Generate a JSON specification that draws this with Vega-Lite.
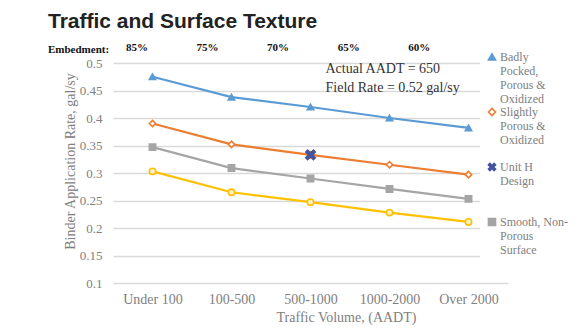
{
  "$schema": "https://vega.github.io/schema/vega-lite/v6.json",
  "width": 395,
  "height": 220,
  "autosize": {"type": "none"},
  "padding": {"left": 113, "top": 63, "right": 73, "bottom": 50},
  "background": "white",
  "config": {"view": {"stroke": null}, "font": "Liberation Serif"},
  "title": {
    "text": "Traffic and Surface Texture",
    "subtitle": "Embedment:",
    "anchor": "start",
    "frame": "group",
    "dx": -65,
    "font": "Liberation Sans",
    "fontSize": 21,
    "fontWeight": "bold",
    "color": "#222222",
    "subtitleFont": "Liberation Serif",
    "subtitleFontSize": 11,
    "subtitleFontWeight": "bold",
    "subtitleColor": "#111111",
    "subtitlePadding": 12,
    "offset": -13
  },
  "datasets": {
    "rates": [
      {"traffic": "Under 100", "series": "Badly Pocked, Porous & Oxidized", "rate": 0.475},
      {"traffic": "100-500", "series": "Badly Pocked, Porous & Oxidized", "rate": 0.438},
      {"traffic": "500-1000", "series": "Badly Pocked, Porous & Oxidized", "rate": 0.42},
      {"traffic": "1000-2000", "series": "Badly Pocked, Porous & Oxidized", "rate": 0.4},
      {"traffic": "Over 2000", "series": "Badly Pocked, Porous & Oxidized", "rate": 0.382},
      {"traffic": "Under 100", "series": "Slightly Porous & Oxidized", "rate": 0.39},
      {"traffic": "100-500", "series": "Slightly Porous & Oxidized", "rate": 0.352},
      {"traffic": "500-1000", "series": "Slightly Porous & Oxidized", "rate": 0.333},
      {"traffic": "1000-2000", "series": "Slightly Porous & Oxidized", "rate": 0.315},
      {"traffic": "Over 2000", "series": "Slightly Porous & Oxidized", "rate": 0.297},
      {"traffic": "Under 100", "series": "Smooth, Non-Porous Surface", "rate": 0.347},
      {"traffic": "100-500", "series": "Smooth, Non-Porous Surface", "rate": 0.309},
      {"traffic": "500-1000", "series": "Smooth, Non-Porous Surface", "rate": 0.29},
      {"traffic": "1000-2000", "series": "Smooth, Non-Porous Surface", "rate": 0.271},
      {"traffic": "Over 2000", "series": "Smooth, Non-Porous Surface", "rate": 0.253},
      {"traffic": "Under 100", "series": "Unlabeled Series", "rate": 0.303},
      {"traffic": "100-500", "series": "Unlabeled Series", "rate": 0.265},
      {"traffic": "500-1000", "series": "Unlabeled Series", "rate": 0.247},
      {"traffic": "1000-2000", "series": "Unlabeled Series", "rate": 0.228},
      {"traffic": "Over 2000", "series": "Unlabeled Series", "rate": 0.211},
      {"traffic": "500-1000", "series": "Unit H Design", "rate": 0.333}
    ],
    "embed": [
      {"traffic": "Under 100", "embedment": "85%"},
      {"traffic": "100-500", "embedment": "75%"},
      {"traffic": "500-1000", "embedment": "70%"},
      {"traffic": "1000-2000", "embedment": "65%"},
      {"traffic": "Over 2000", "embedment": "60%"}
    ],
    "note": [
      {"note": "Actual AADT = 650\nField Rate = 0.52 gal/sy"}
    ]
  },
  "layer": [
    {
      "layer": [
        {
          "data": {"name": "rates"},
          "transform": [{"filter": "datum.series !== 'Unit H Design'"}],
          "mark": {"type": "line", "strokeWidth": 2.2},
          "encoding": {
            "x": {
              "field": "traffic", "type": "ordinal",
              "scale": {"type": "point", "padding": 0.5, "domain": ["Under 100", "100-500", "500-1000", "1000-2000", "Over 2000"]},
              "axis": {
                "title": "Traffic Volume, (AADT)",
                "labelAngle": 0, "labelFont": "Liberation Serif", "labelFontSize": 14, "labelColor": "#808080",
                "labelPadding": 9, "ticks": false, "domain": false, "grid": false,
                "titleFont": "Liberation Serif", "titleFontSize": 14, "titleFontWeight": "normal", "titleColor": "#808080",
                "titlePadding": 4, "titleX": 233
              }
            },
            "y": {
              "field": "rate", "type": "quantitative",
              "scale": {"domain": [0.1, 0.5], "nice": false, "zero": false},
              "axis": {
                "title": "Binder Application Rate, gal/sy",
                "values": [0.1, 0.15, 0.2, 0.25, 0.3, 0.35, 0.4, 0.45, 0.5],
                "tickCount": 12,
                "format": "~g", "labelOverlap": false,
                "labelFont": "Liberation Serif", "labelFontSize": 13, "labelColor": "#808080",
                "labelPadding": 11, "ticks": false, "domain": false,
                "grid": true, "gridColor": "#d9d9d9", "gridWidth": 1.3,
                "titleFont": "Liberation Serif", "titleFontSize": 14, "titleFontWeight": "normal", "titleColor": "#808080",
                "titlePadding": 2, "titleY": 98
              }
            },
            "stroke": {
              "field": "series", "type": "nominal",
              "scale": {
                "domain": ["Badly Pocked, Porous & Oxidized", "Slightly Porous & Oxidized", "Unit H Design", "Smooth, Non-Porous Surface", "Unlabeled Series"],
                "range": ["#5B9BD5", "#ED7D31", "#44549E", "#A5A5A5", "#FFC000"]
              }
            }
          }
        },
        {
          "data": {"name": "rates"},
          "mark": {"type": "point", "filled": false, "strokeWidth": 1.6, "opacity": 1},
          "encoding": {
            "x": {"field": "traffic", "type": "ordinal"},
            "y": {"field": "rate", "type": "quantitative"},
            "size": {"condition": {"test": "datum.series === 'Unit H Design'", "value": 90}, "value": 40},
            "stroke": {
              "field": "series", "type": "nominal",
              "legend": {
                "orient": "none", "legendX": 367, "legendY": -18, "fillColor": "white", "padding": 6,
                "title": null, "gridAlign": "all", "rowPadding": 0,
                "values": ["Badly Pocked, Porous & Oxidized", "Slightly Porous & Oxidized", "Unit H Design", "Smooth, Non-Porous Surface"],
                "labelFont": "Liberation Serif", "labelFontSize": 12, "labelColor": "#808080", "labelLimit": 200, "labelOffset": 2,
                "labelExpr": "datum.value == 'Badly Pocked, Porous & Oxidized' ? ['Badly', 'Pocked,', 'Porous &', 'Oxidized'] : datum.value == 'Slightly Porous & Oxidized' ? ['Slightly', 'Porous &', 'Oxidized'] : datum.value == 'Unit H Design' ? ['Unit H', 'Design'] : ['Smooth, Non-', 'Porous', 'Surface']",
                "symbolSize": 50, "symbolStrokeWidth": 1.6
              }
            },
            "fill": {
              "field": "series", "type": "nominal",
              "scale": {
                "domain": ["Badly Pocked, Porous & Oxidized", "Slightly Porous & Oxidized", "Unit H Design", "Smooth, Non-Porous Surface", "Unlabeled Series"],
                "range": ["#5B9BD5", "#FFFFFF", "#44549E", "#A5A5A5", "#FFF2CC"]
              }
            },
            "shape": {
              "field": "series", "type": "nominal",
              "scale": {
                "domain": ["Badly Pocked, Porous & Oxidized", "Slightly Porous & Oxidized", "Unit H Design", "Smooth, Non-Porous Surface", "Unlabeled Series"],
                "range": ["triangle-up", "diamond", "M-1,-0.6L-0.6,-1L0,-0.4L0.6,-1L1,-0.6L0.4,0L1,0.6L0.6,1L0,0.4L-0.6,1L-1,0.6L-0.4,0Z", "square", "circle"]
              }
            }
          }
        },
        {
          "data": {"name": "note"},
          "mark": {"type": "text", "font": "Liberation Serif", "fontSize": 14, "color": "#333333", "align": "left", "baseline": "alphabetic", "dx": 15, "lineBreak": "\n", "lineHeight": 19},
          "encoding": {
            "x": {"datum": "500-1000", "type": "ordinal"},
            "y": {"datum": 0.482, "type": "quantitative"},
            "text": {"field": "note", "type": "nominal"}
          }
        }
      ]
    },
    {
      "data": {"name": "embed"},
      "mark": {"type": "text", "font": "Liberation Serif", "fontSize": 11, "fontWeight": "bold", "color": "#111111", "baseline": "alphabetic", "dy": -12},
      "encoding": {
        "x": {
          "field": "traffic", "type": "ordinal",
          "scale": {"type": "point", "padding": 0.8, "align": 0.213, "domain": ["Under 100", "100-500", "500-1000", "1000-2000", "Over 2000"]},
          "axis": null
        },
        "y": {
          "datum": 0.5, "type": "quantitative",
          "axis": {
            "title": "Binder Application Rate, gal/sy",
            "values": [0.1, 0.15, 0.2, 0.25, 0.3, 0.35, 0.4, 0.45, 0.5],
            "tickCount": 12,
            "format": "~g", "labelOverlap": false,
            "labelFont": "Liberation Serif", "labelFontSize": 13, "labelColor": "#808080",
            "labelPadding": 11, "ticks": false, "domain": false,
            "grid": true, "gridColor": "#d9d9d9", "gridWidth": 1.3,
            "titleFont": "Liberation Serif", "titleFontSize": 14, "titleFontWeight": "normal", "titleColor": "#808080",
            "titlePadding": 2, "titleY": 98
          }
        },
        "text": {"field": "embedment", "type": "nominal"}
      }
    }
  ],
  "resolve": {"scale": {"x": "independent"}}
}
